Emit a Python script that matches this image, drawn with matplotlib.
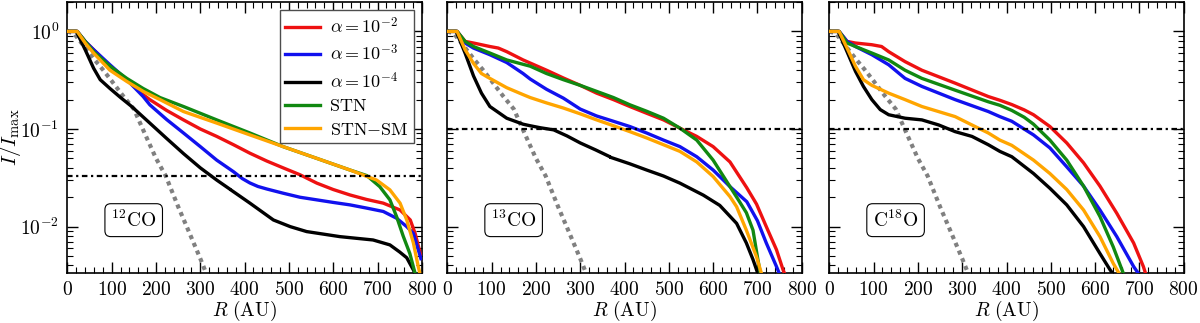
import numpy as np
import matplotlib
matplotlib.use("Agg")
import matplotlib.pyplot as plt

plt.rcParams["font.family"] = "serif"
plt.rcParams["font.serif"] = ["cmr10", "DejaVu Serif"]
plt.rcParams["mathtext.fontset"] = "cm"
plt.rcParams["axes.formatter.use_mathtext"] = True
plt.rcParams["axes.unicode_minus"] = False

labels = [r"$\alpha=10^{-2}$", r"$\alpha=10^{-3}$", r"$\alpha=10^{-4}$", "STN", r"STN$-$SM"]
colors = ["#ee1111", "#1111ee", "black", "#118811", "#ffa500"]
species = [r"$^{12}\mathrm{CO}$", r"$^{13}\mathrm{CO}$", r"$\mathrm{C}^{18}\mathrm{O}$"]
thresholds = [1 / 30.0, 0.1, 0.1]

# beam profile (same in all panels)
r_beam = [0, 15, 40, 60, 81, 100, 125, 150, 175, 200, 222, 250, 275, 300, 320]
i_beam = [1.0, 0.95, 0.68, 0.52, 0.40, 0.31, 0.22, 0.16, 0.089, 0.050, 0.033,
          0.016, 0.0087, 0.0047, 0.0028]

# ---- 12CO ----
r_red1 = [0, 22, 40, 59, 96, 134, 171, 186, 224, 262, 300, 337, 375, 412, 450, 487, 525, 563,
          600, 638, 675, 713, 751, 774, 785, 798]
i_red1 = [1, 1, 0.79, 0.65, 0.44, 0.32, 0.225, 0.20, 0.155, 0.124, 0.10, 0.084, 0.069, 0.0565,
          0.047, 0.040, 0.034, 0.0279, 0.024, 0.0211, 0.019, 0.0174, 0.0148, 0.0117, 0.0085, 0.0050]
r_blue1 = [0, 22, 40, 59, 96, 134, 171, 186, 224, 262, 300, 337, 375, 395, 412, 430, 450, 487,
           525, 563, 600, 638, 675, 713, 743, 766, 781, 798]
i_blue1 = [1, 1, 0.79, 0.65, 0.455, 0.32, 0.215, 0.177, 0.125, 0.091, 0.066, 0.048, 0.0365,
           0.031, 0.028, 0.0258, 0.0243, 0.022, 0.020, 0.0188, 0.0177, 0.0167, 0.0155, 0.0143,
           0.0122, 0.0100, 0.0085, 0.0047]
r_black1 = [0, 20, 40, 59, 74, 96, 120, 145, 186, 224, 262, 300, 337, 365, 367, 370, 412, 465,
            503, 540, 615, 690, 728, 750, 766, 781, 788]
i_black1 = [1, 1, 0.65, 0.42, 0.32, 0.26, 0.21, 0.17, 0.115, 0.080, 0.056, 0.040, 0.030, 0.0245,
            np.nan, 0.0236, 0.0174, 0.0117, 0.0100, 0.0089, 0.0079, 0.0073, 0.0065, 0.0055,
            0.0048, 0.0036, 0.0031]
r_green1 = [0, 22, 40, 59, 96, 134, 171, 209, 262, 337, 412, 487, 563, 638, 676, 705, 728, 743,
            758, 773, 785]
i_green1 = [1, 1, 0.79, 0.62, 0.44, 0.33, 0.26, 0.21, 0.17, 0.124, 0.091, 0.066, 0.050, 0.038,
            0.0333, 0.0257, 0.0188, 0.0127, 0.0080, 0.0053, 0.0033]
r_orange1 = [0, 22, 40, 59, 96, 134, 171, 209, 262, 337, 412, 487, 563, 638, 698, 728, 751, 766,
             781, 792, 798]
i_orange1 = [1, 1, 0.76, 0.60, 0.40, 0.307, 0.243, 0.20, 0.151, 0.115, 0.087, 0.066, 0.050,
             0.038, 0.030, 0.0238, 0.0174, 0.0117, 0.0068, 0.0039, 0.0030]

# ---- 13CO ----
r_red2 = [0, 22, 40, 59, 96, 115, 134, 171, 187, 224, 262, 300, 337, 375, 412, 450, 488, 525,
          563, 600, 638, 676, 698, 720, 743, 758, 765]
i_red2 = [1, 1, 0.79, 0.76, 0.70, 0.675, 0.62, 0.51, 0.474, 0.40, 0.333, 0.28, 0.233, 0.20,
          0.17, 0.145, 0.124, 0.102, 0.084, 0.066, 0.046, 0.025, 0.0170, 0.010, 0.0058,
          0.0036, 0.0030]
r_blue2 = [0, 22, 40, 59, 96, 134, 171, 187, 224, 262, 300, 337, 375, 412, 450, 488, 525, 563,
           600, 638, 676, 700, 720, 743, 752]
i_blue2 = [1, 1, 0.76, 0.675, 0.577, 0.48, 0.37, 0.325, 0.255, 0.207, 0.160, 0.136, 0.12, 0.106,
           0.091, 0.077, 0.066, 0.052, 0.038, 0.0257, 0.0180, 0.0115, 0.0068, 0.0039, 0.0031]
r_black2 = [0, 20, 40, 59, 77, 96, 134, 171, 187, 210, 240, 270, 300, 335, 365, 367, 370, 412,
            450, 488, 525, 578, 615, 653, 675, 690, 701, 705]
i_black2 = [1, 1, 0.60, 0.35, 0.233, 0.17, 0.129, 0.112, 0.108, 0.103, 0.098, 0.085, 0.072,
            0.061, 0.0525, np.nan, 0.051, 0.044, 0.038, 0.033, 0.0279, 0.021, 0.0165, 0.0108,
            0.0068, 0.0046, 0.0033, 0.0029]
r_green2 = [0, 22, 40, 59, 96, 134, 171, 187, 224, 262, 300, 337, 375, 412, 450, 488, 525, 563,
            600, 638, 657, 675, 690, 701, 708]
i_green2 = [1, 1, 0.79, 0.70, 0.60, 0.51, 0.46, 0.44, 0.37, 0.32, 0.28, 0.243, 0.21, 0.177,
            0.152, 0.129, 0.102, 0.077, 0.048, 0.0257, 0.0188, 0.0139, 0.0092, 0.0046, 0.0031]
r_orange2 = [0, 22, 40, 59, 77, 96, 134, 171, 187, 224, 262, 300, 337, 375, 412, 450, 488, 525,
             563, 600, 638, 653, 675, 698, 711]
i_orange2 = [1, 1, 0.65, 0.47, 0.37, 0.33, 0.265, 0.225, 0.21, 0.185, 0.164, 0.143, 0.124,
             0.108, 0.094, 0.081, 0.069, 0.059, 0.046, 0.0326, 0.0203, 0.016, 0.0092, 0.0049,
             0.0031]

# ---- C18O ----
r_red3 = [0, 22, 40, 59, 96, 118, 134, 171, 209, 284, 359, 385, 412, 440, 461, 498, 536, 574,
          611, 649, 687, 709, 716]
i_red3 = [1, 1, 0.79, 0.76, 0.73, 0.70, 0.62, 0.49, 0.40, 0.295, 0.215, 0.197, 0.178, 0.157,
          0.14, 0.106, 0.072, 0.045, 0.026, 0.0137, 0.0068, 0.0039, 0.0031]
r_blue3 = [0, 22, 40, 59, 96, 134, 171, 209, 284, 359, 385, 412, 461, 498, 536, 574, 611, 649,
           687, 700]
i_blue3 = [1, 1, 0.79, 0.70, 0.577, 0.455, 0.33, 0.273, 0.20, 0.151, 0.134, 0.12, 0.087, 0.064,
           0.041, 0.026, 0.0148, 0.0079, 0.0039, 0.0032]
r_black3 = [0, 20, 40, 59, 77, 96, 115, 134, 171, 209, 247, 284, 322, 359, 385, 412, 461, 498,
            536, 574, 611, 634, 645]
i_black3 = [1, 1, 0.62, 0.39, 0.273, 0.20, 0.158, 0.14, 0.129, 0.124, 0.11, 0.094, 0.084, 0.069,
            0.059, 0.052, 0.035, 0.0247, 0.0167, 0.010, 0.0053, 0.0036, 0.0031]
r_green3 = [0, 22, 40, 59, 96, 134, 171, 209, 284, 359, 385, 412, 440, 461, 498, 536, 574, 611,
            641, 664, 668]
i_green3 = [1, 1, 0.76, 0.70, 0.60, 0.51, 0.40, 0.33, 0.25, 0.19, 0.175, 0.155, 0.132, 0.112,
            0.077, 0.048, 0.026, 0.0127, 0.0062, 0.0033, 0.0030]
r_orange3 = [0, 22, 40, 59, 77, 96, 134, 171, 209, 284, 322, 359, 385, 412, 461, 498, 536, 574,
             611, 641, 658]
i_orange3 = [1, 1, 0.675, 0.44, 0.32, 0.28, 0.233, 0.20, 0.17, 0.134, 0.11, 0.091, 0.077, 0.068,
             0.048, 0.035, 0.024, 0.0148, 0.0079, 0.0042, 0.0031]

panels = [
    [(r_red1, i_red1), (r_blue1, i_blue1), (r_black1, i_black1), (r_green1, i_green1), (r_orange1, i_orange1)],
    [(r_red2, i_red2), (r_blue2, i_blue2), (r_black2, i_black2), (r_green2, i_green2), (r_orange2, i_orange2)],
    [(r_red3, i_red3), (r_blue3, i_blue3), (r_black3, i_black3), (r_green3, i_green3), (r_orange3, i_orange3)],
]

fig = plt.figure(figsize=(12, 3.23), dpi=100)
lefts = [0.0562, 0.3728, 0.6911]
for k in range(3):
    ax = fig.add_axes([lefts[k], 0.1548, 0.2953, 0.839])
    ax.plot(r_beam, i_beam, color="gray", lw=3, ls=(0, (1, 1)), zorder=2)
    for (r, i), c, lab in zip(panels[k], colors, labels):
        ax.plot(r, i, color=c, lw=2.4, label=lab, zorder=3)
    ax.axhline(thresholds[k], color="black", lw=1.6, ls=(0, (2.5, 1.6, 1, 1.6)), zorder=4)
    ax.set_yscale("log")
    ax.set_xlim(0, 800)
    ax.set_ylim(0.00335, 2.0)
    ax.set_xticks(np.arange(0, 801, 100))
    ax.set_xticks(np.arange(0, 801, 20), minor=True)
    ax.tick_params(which="both", direction="in", top=True, right=True, labelsize=14)
    ax.tick_params(which="major", length=8, width=1, pad=6)
    ax.tick_params(which="minor", length=4, width=0.8)
    for s in ax.spines.values():
        s.set_linewidth(1.2)
    ax.set_xlabel(r"$R\ \mathrm{(AU)}$", fontsize=14, labelpad=0)
    if k == 0:
        ax.set_ylabel(r"$I/I_{\rm max}$", fontsize=15)
        ax.yaxis.set_label_coords(-0.125, 0.5)
        leg = ax.legend(loc="upper right", fontsize=13, handlelength=1.9, handletextpad=0.55,
                        labelspacing=0.4, borderaxespad=0.45, borderpad=0.3, fancybox=False,
                        framealpha=1)
        leg.get_frame().set_edgecolor("0.3")
    else:
        ax.set_yticklabels([])
        ax.yaxis.set_minor_formatter(plt.NullFormatter())
    ax.text(0.187, 0.195, species[k], transform=ax.transAxes, fontsize=14, ha="center",
            va="center", bbox=dict(boxstyle="round,pad=0.3", fc="white", ec="black", lw=0.8))

fig.savefig("out.png", dpi=100)
